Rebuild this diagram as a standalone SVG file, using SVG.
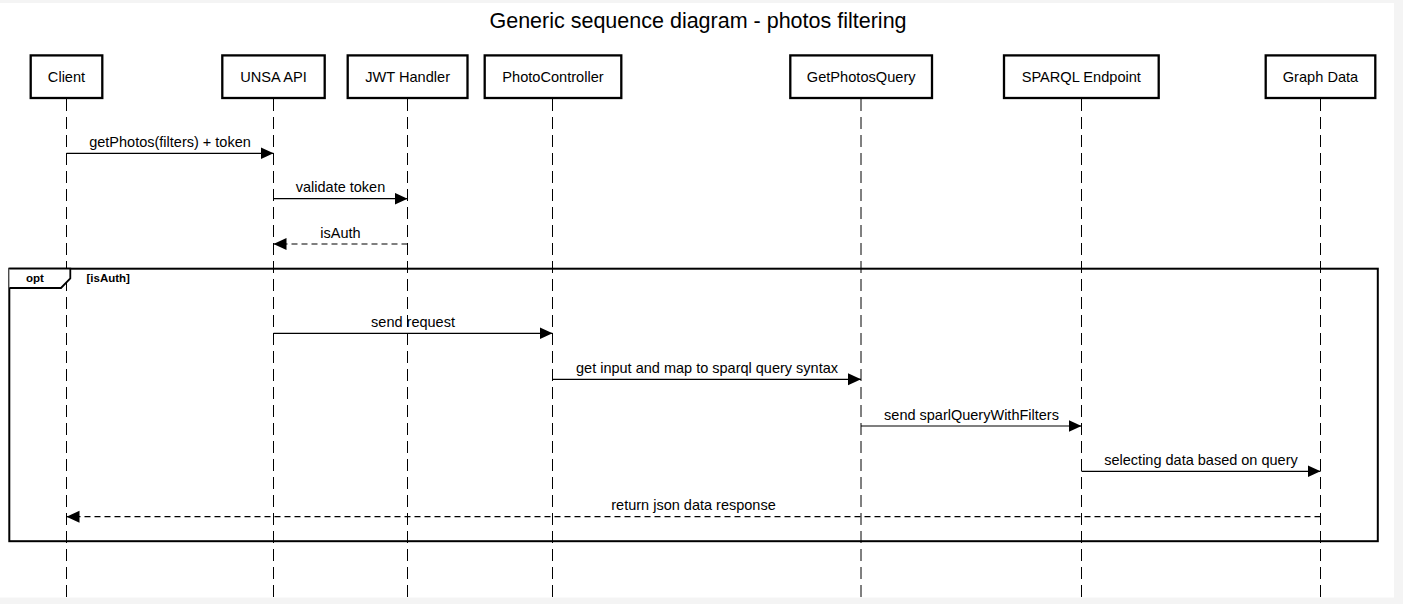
<svg xmlns="http://www.w3.org/2000/svg" width="1403" height="604" viewBox="0 0 1403 604">
<style>
text{font-family:"Liberation Sans",Arial,sans-serif;fill:#000}
.title{font-size:21.5px;text-anchor:middle}
.nl{font-size:14.6px;text-anchor:middle}
.ml{font-size:14.5px;text-anchor:middle}
.box{fill:#fff;stroke:#000;stroke-width:2.3}
.life{stroke:#000;stroke-width:1;stroke-dasharray:12 6;fill:none}
.msg{stroke:#000;stroke-width:1.2;fill:none;marker-end:url(#ah)}
.ret{stroke:#000;stroke-width:1.2;fill:none;stroke-dasharray:6 4;marker-end:url(#ah)}
.frame{fill:none;stroke:#000;stroke-width:2}
.fl{font-size:11.5px;font-weight:bold}
</style>
<defs>
<marker id="ah" markerUnits="userSpaceOnUse" markerWidth="14" markerHeight="13" refX="13" refY="6" orient="auto">
<path d="M0,0 L13,6 L0,12 z" fill="#000"/>
</marker>
</defs>
<rect x="0" y="0" width="1403" height="604" fill="#f4f4f4"/>
<rect x="0" y="3" width="1394" height="594.5" fill="#fff"/>
<text class="title" x="698" y="28">Generic sequence diagram - photos filtering</text>

<g id="lifelines">
<line class="life" x1="66.5" y1="99" x2="66.5" y2="597"/>
<line class="life" x1="273.5" y1="99" x2="273.5" y2="597"/>
<line class="life" x1="407.5" y1="99" x2="407.5" y2="597"/>
<line class="life" x1="552.5" y1="99" x2="552.5" y2="597"/>
<line class="life" x1="861" y1="99" x2="861" y2="597"/>
<line class="life" x1="1081.5" y1="99" x2="1081.5" y2="597"/>
<line class="life" x1="1320.5" y1="99" x2="1320.5" y2="597"/>
</g>

<g id="opt-frame">
<rect class="frame" x="9.3" y="268.7" width="1368.5" height="272.5"/>
<path d="M9.3,268.7 L70.3,268.7 L70.3,278.5 L61,288 L9.3,288" fill="#fff" stroke="#000" stroke-width="1.8"/>
<text class="fl" x="35" y="282" text-anchor="middle">opt</text>
<text class="fl" x="86.5" y="282">[isAuth]</text>
</g>

<g id="node-client"><rect class="box" x="30.7" y="55.4" width="71.6" height="42.6"/><text class="nl" x="66.5" y="82">Client</text></g>
<g id="node-unsa"><rect class="box" x="222.3" y="55.4" width="102.4" height="42.6"/><text class="nl" x="273.5" y="82">UNSA API</text></g>
<g id="node-jwt"><rect class="box" x="347.7" y="55.4" width="119.8" height="42.6"/><text class="nl" x="407.6" y="82">JWT Handler</text></g>
<g id="node-photocontroller"><rect class="box" x="484.7" y="55.4" width="136.6" height="42.6"/><text class="nl" x="553" y="82">PhotoController</text></g>
<g id="node-getphotosquery"><rect class="box" x="790.3" y="55.4" width="141.7" height="42.6"/><text class="nl" x="861.2" y="82">GetPhotosQuery</text></g>
<g id="node-sparql"><rect class="box" x="1004" y="55.4" width="154.7" height="42.6"/><text class="nl" x="1081.3" y="82">SPARQL Endpoint</text></g>
<g id="node-graphdata"><rect class="box" x="1265.7" y="55.4" width="109.6" height="42.6"/><text class="nl" x="1320.5" y="82">Graph Data</text></g>

<g id="connectors">
<line class="msg" x1="66.5" y1="153.3" x2="273.5" y2="153.3"/>
<text class="ml" x="170" y="146.5">getPhotos(filters) + token</text>
<line class="msg" x1="273.5" y1="198.7" x2="407.5" y2="198.7"/>
<text class="ml" x="340.5" y="192">validate token</text>
<line class="ret" x1="407.5" y1="244" x2="273.5" y2="244"/>
<text class="ml" x="340.5" y="237.5">isAuth</text>
<line class="msg" x1="273.5" y1="333.3" x2="552.5" y2="333.3"/>
<text class="ml" x="413" y="326.5">send request</text>
<line class="msg" x1="552.5" y1="379.3" x2="861" y2="379.3"/>
<text class="ml" x="707" y="372.5">get input and map to sparql query syntax</text>
<line class="msg" x1="861" y1="426" x2="1081.5" y2="426"/>
<text class="ml" x="971.5" y="419.5">send sparlQueryWithFilters</text>
<line class="msg" x1="1081.5" y1="471.3" x2="1320.5" y2="471.3"/>
<text class="ml" x="1201" y="464.5">selecting data based on query</text>
<line class="ret" x1="1320.5" y1="516.7" x2="66.5" y2="516.7"/>
<text class="ml" x="693.5" y="510">return json data response</text>
</g>
</svg>
